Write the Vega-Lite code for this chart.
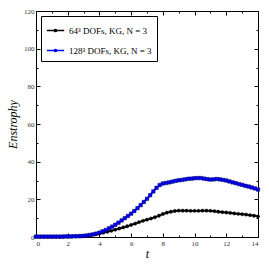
{
  "$schema": "https://vega.github.io/schema/vega-lite/v6.json",
  "width": 222,
  "height": 226,
  "autosize": "none",
  "padding": {"left": 36, "top": 11, "right": 11, "bottom": 32},
  "background": "white",
  "config": {
    "view": {"stroke": "black", "strokeWidth": 1},
    "font": "Liberation Serif",
    "axis": {"grid": false, "domain": false, "tickColor": "black", "labelColor": "#333", "labelFont": "Liberation Serif", "labelFontSize": 7}
  },
  "datasets": {
    "d": [
      {"t":0,"E":0.1,"s":"64"},{"t":0.25,"E":0.1,"s":"64"},{"t":0.5,"E":0.1,"s":"64"},{"t":0.75,"E":0.1,"s":"64"},{"t":1,"E":0.1,"s":"64"},{"t":1.25,"E":0.1,"s":"64"},{"t":1.5,"E":0.1,"s":"64"},{"t":1.75,"E":0.1,"s":"64"},{"t":2,"E":0.2,"s":"64"},{"t":2.25,"E":0.2,"s":"64"},{"t":2.5,"E":0.3,"s":"64"},{"t":2.75,"E":0.4,"s":"64"},{"t":3,"E":0.5,"s":"64"},
      {"t":3.25,"E":0.7,"s":"64"},{"t":3.5,"E":1.0,"s":"64"},{"t":3.75,"E":1.4,"s":"64"},{"t":4,"E":1.8,"s":"64"},{"t":4.25,"E":2.3,"s":"64"},{"t":4.5,"E":2.8,"s":"64"},{"t":4.75,"E":3.3,"s":"64"},{"t":5,"E":3.9,"s":"64"},{"t":5.25,"E":4.5,"s":"64"},{"t":5.5,"E":5.1,"s":"64"},{"t":5.75,"E":5.7,"s":"64"},{"t":6,"E":6.4,"s":"64"},{"t":6.25,"E":7.1,"s":"64"},{"t":6.5,"E":7.9,"s":"64"},{"t":6.75,"E":8.6,"s":"64"},{"t":7,"E":9.2,"s":"64"},{"t":7.25,"E":9.8,"s":"64"},{"t":7.5,"E":10.5,"s":"64"},{"t":7.75,"E":11.3,"s":"64"},{"t":8,"E":12.2,"s":"64"},{"t":8.25,"E":12.9,"s":"64"},{"t":8.5,"E":13.4,"s":"64"},{"t":8.75,"E":13.8,"s":"64"},{"t":9,"E":14.0,"s":"64"},{"t":9.25,"E":14.0,"s":"64"},{"t":9.5,"E":14.0,"s":"64"},{"t":9.75,"E":13.9,"s":"64"},{"t":10,"E":13.9,"s":"64"},{"t":10.25,"E":13.9,"s":"64"},{"t":10.5,"E":14.0,"s":"64"},{"t":10.75,"E":14.0,"s":"64"},{"t":11,"E":13.9,"s":"64"},{"t":11.25,"E":13.7,"s":"64"},{"t":11.5,"E":13.4,"s":"64"},{"t":11.75,"E":13.2,"s":"64"},{"t":12,"E":13.0,"s":"64"},{"t":12.25,"E":12.8,"s":"64"},{"t":12.5,"E":12.5,"s":"64"},{"t":12.75,"E":12.3,"s":"64"},{"t":13,"E":12.1,"s":"64"},{"t":13.25,"E":11.9,"s":"64"},{"t":13.5,"E":11.6,"s":"64"},{"t":13.75,"E":11.3,"s":"64"},{"t":14,"E":11.0,"s":"64"},
      {"t":0,"E":0.2,"s":"128"},{"t":0.2,"E":0.2,"s":"128"},{"t":0.4,"E":0.2,"s":"128"},{"t":0.6,"E":0.2,"s":"128"},{"t":0.8,"E":0.2,"s":"128"},{"t":1.0,"E":0.2,"s":"128"},{"t":1.2,"E":0.2,"s":"128"},{"t":1.4,"E":0.2,"s":"128"},{"t":1.6,"E":0.2,"s":"128"},{"t":1.8,"E":0.3,"s":"128"},{"t":2.0,"E":0.3,"s":"128"},{"t":2.2,"E":0.3,"s":"128"},{"t":2.4,"E":0.4,"s":"128"},{"t":2.6,"E":0.4,"s":"128"},{"t":2.8,"E":0.5,"s":"128"},{"t":3.0,"E":0.6,"s":"128"},{"t":3.2,"E":0.8,"s":"128"},{"t":3.4,"E":1.1,"s":"128"},{"t":3.6,"E":1.4,"s":"128"},{"t":3.8,"E":1.8,"s":"128"},{"t":4.0,"E":2.3,"s":"128"},{"t":4.2,"E":3.0,"s":"128"},{"t":4.4,"E":3.7,"s":"128"},{"t":4.6,"E":4.6,"s":"128"},{"t":4.8,"E":5.5,"s":"128"},{"t":5.0,"E":6.5,"s":"128"},{"t":5.2,"E":7.6,"s":"128"},{"t":5.4,"E":8.8,"s":"128"},{"t":5.6,"E":10.0,"s":"128"},{"t":5.8,"E":11.2,"s":"128"},{"t":6.0,"E":12.4,"s":"128"},{"t":6.2,"E":13.8,"s":"128"},{"t":6.4,"E":15.3,"s":"128"},{"t":6.6,"E":16.9,"s":"128"},{"t":6.8,"E":18.6,"s":"128"},{"t":7.0,"E":20.3,"s":"128"},{"t":7.2,"E":22.2,"s":"128"},{"t":7.4,"E":24.2,"s":"128"},{"t":7.6,"E":26.1,"s":"128"},{"t":7.8,"E":27.6,"s":"128"},{"t":8.0,"E":28.4,"s":"128"},{"t":8.2,"E":28.7,"s":"128"},{"t":8.4,"E":29.0,"s":"128"},{"t":8.6,"E":29.4,"s":"128"},{"t":8.8,"E":29.8,"s":"128"},{"t":9.0,"E":30.1,"s":"128"},{"t":9.2,"E":30.3,"s":"128"},{"t":9.4,"E":30.6,"s":"128"},{"t":9.6,"E":30.9,"s":"128"},{"t":9.8,"E":31.0,"s":"128"},{"t":10.0,"E":31.2,"s":"128"},{"t":10.2,"E":31.3,"s":"128"},{"t":10.4,"E":31.3,"s":"128"},{"t":10.6,"E":31.0,"s":"128"},{"t":10.8,"E":30.7,"s":"128"},{"t":11.0,"E":30.5,"s":"128"},{"t":11.2,"E":30.6,"s":"128"},{"t":11.4,"E":30.8,"s":"128"},{"t":11.6,"E":30.6,"s":"128"},{"t":11.8,"E":30.3,"s":"128"},{"t":12.0,"E":30.0,"s":"128"},{"t":12.2,"E":29.5,"s":"128"},{"t":12.4,"E":29.0,"s":"128"},{"t":12.6,"E":28.6,"s":"128"},{"t":12.8,"E":28.1,"s":"128"},{"t":13.0,"E":27.7,"s":"128"},{"t":13.2,"E":27.2,"s":"128"},{"t":13.4,"E":26.8,"s":"128"},{"t":13.6,"E":26.3,"s":"128"},{"t":13.8,"E":25.8,"s":"128"},{"t":14.0,"E":25.2,"s":"128"}
    ]
  },
  "data": {"name": "d"},
  "resolve": {"axis": {"x": "independent", "y": "independent"}},
  "layer": [
    {
      "mark": {"type": "line", "strokeWidth": 1.8},
      "encoding": {
        "x": {"field": "t", "type": "quantitative", "scale": {"domain": [0, 14], "nice": false},
          "axis": {"values": [0,2,4,6,8,10,12,14], "tickSize": -4, "labelPadding": 6, "title": "t", "titleFont": "Liberation Serif", "titleFontStyle": "italic", "titleFontWeight": "normal", "titleFontSize": 12, "titlePadding": 2}},
        "y": {"field": "E", "type": "quantitative", "scale": {"domain": [0, 120], "nice": false},
          "axis": {"values": [0,20,40,60,80,100,120], "tickSize": -4, "labelPadding": 6, "title": "Enstrophy", "titleFont": "Liberation Serif", "titleFontStyle": "italic", "titleFontWeight": "normal", "titleFontSize": 12, "titlePadding": 4}},
        "color": {"field": "s", "type": "nominal", "scale": {"domain": ["64", "128"], "range": ["black", "#0000ff"]},
          "legend": {"orient": "top-left", "offset": 5, "title": null, "symbolType": "M-1,0L1,0M-0.12,0A0.12,0.12 0 1,1 0.12,0A0.12,0.12 0 1,1 -0.12,0Z", "symbolSize": 300, "symbolStrokeWidth": 1.6, "labelExpr": "datum.value == '64' ? '64³ DOFs, KG, N = 3' : '128³ DOFs, KG, N = 3'", "labelFont": "Liberation Serif", "labelFontSize": 9, "labelColor": "black", "strokeColor": "black", "fillColor": "white", "padding": 5, "rowPadding": 5, "cornerRadius": 0}}
      }
    },
    {
      "transform": [{"filter": "datum.s == '64'"}],
      "mark": {"type": "point", "shape": "circle", "filled": true, "size": 11, "stroke": "black", "strokeWidth": 0.4, "opacity": 1},
      "encoding": {
        "x": {"field": "t", "type": "quantitative", "axis": null},
        "y": {"field": "E", "type": "quantitative", "axis": null},
        "color": {"field": "s", "type": "nominal", "legend": null}
      }
    },
    {
      "transform": [{"filter": "datum.s == '128'"}],
      "mark": {"type": "point", "shape": "square", "filled": true, "size": 12, "stroke": "#000060", "strokeWidth": 0.5, "opacity": 1},
      "encoding": {
        "x": {"field": "t", "type": "quantitative", "axis": null},
        "y": {"field": "E", "type": "quantitative", "axis": null},
        "color": {"field": "s", "type": "nominal", "legend": null}
      }
    },
    {
      "mark": {"type": "point", "opacity": 0},
      "encoding": {
        "x": {"field": "t", "type": "quantitative", "axis": {"orient": "top", "values": [0,2,4,6,8,10,12,14], "tickSize": -4, "labels": false, "title": null}},
        "y": {"field": "E", "type": "quantitative", "axis": {"orient": "right", "values": [0,20,40,60,80,100,120], "tickSize": -4, "labels": false, "title": null}}
      }
    },
    {
      "mark": {"type": "point", "opacity": 0},
      "encoding": {
        "x": {"field": "t", "type": "quantitative", "axis": {"orient": "bottom", "values": [1,3,5,7,9,11,13], "tickSize": -2, "labels": false, "title": null}},
        "y": {"field": "E", "type": "quantitative", "axis": {"orient": "left", "values": [10,30,50,70,90,110], "tickSize": -2, "labels": false, "title": null}}
      }
    },
    {
      "mark": {"type": "point", "opacity": 0},
      "encoding": {
        "x": {"field": "t", "type": "quantitative", "axis": {"orient": "top", "values": [1,3,5,7,9,11,13], "tickSize": -2, "labels": false, "title": null}},
        "y": {"field": "E", "type": "quantitative", "axis": {"orient": "right", "values": [10,30,50,70,90,110], "tickSize": -2, "labels": false, "title": null}}
      }
    }
  ]
}
